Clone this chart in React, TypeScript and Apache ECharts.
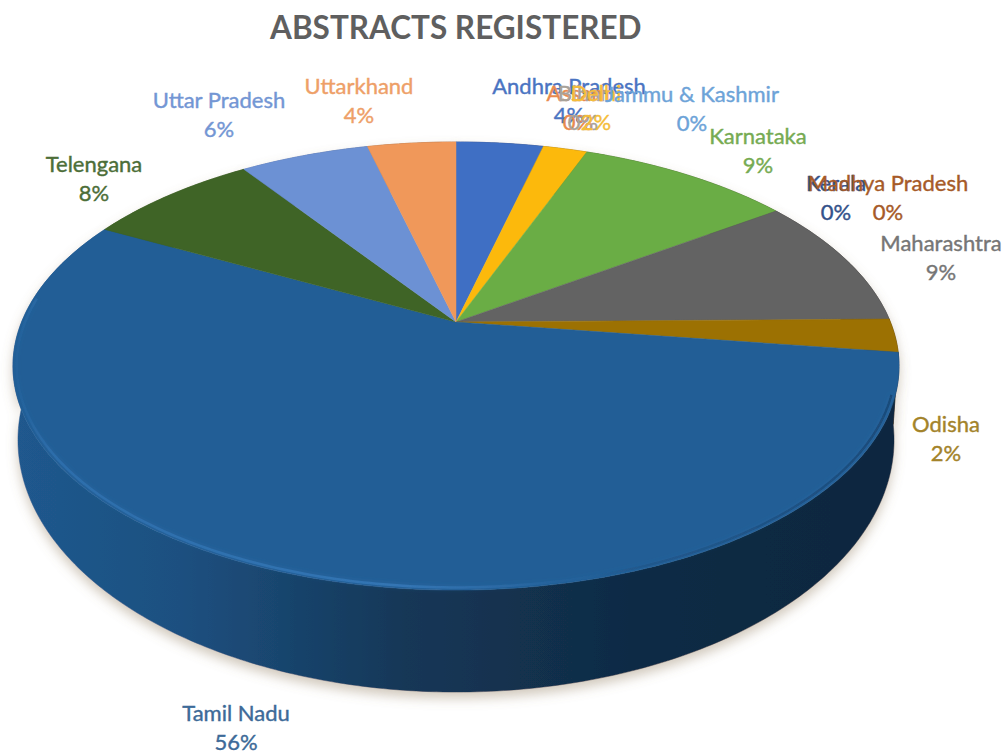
import React, { useEffect, useRef } from "react";
import * as echarts from "echarts";

const titleText = "ABSTRACTS REGISTERED";
const states = ["Andhra Pradesh", "Assam", "Bihar", "Delhi", "Jammu & Kashmir", "Karnataka", "Kerala", "Madhya Pradesh", "Maharashtra", "Odisha", "Tamil Nadu", "Telengana", "Uttar Pradesh", "Uttarkhand"];
const shares = [3.85, 0, 0, 1.95, 0, 9.49, 0, 0, 9.49, 2.4, 55.6, 7.62, 5.7, 3.9];

const sliceColors = ["#3f6fc4", "#ed7d31", "#a5a5a5", "#fcb90c", "#5b9bd5", "#6aad45", "#264478", "#9e480e", "#636363", "#9c7102", "#225e96", "#3f6426", "#6c91d4", "#f0985a"];
const labelColors = ["#4a74c2", "#e98a4e", "#a8a29a", "#f5bd3a", "#6da3d8", "#76ab52", "#34528a", "#a65a28", "#767676", "#a3832a", "#3d6a98", "#4c6e38", "#7396d4", "#ee9f68"];
const labelAnchors = [[569, 100], [578, 107], [583, 107], [596, 107], [692, 108], [758, 150], [836, 197], [888, 197], [941, 257], [946, 438], [236, 727], [94, 178], [219, 114], [359, 100]];

const APEX_X = 456, APEX_Y = 322, SCALE_X = 434.4, SCALE_Y = 215.4, PERSPECTIVE = 0.1965;
const TOP_CX = 456, TOP_CY = 366, BOTTOM_CX = 456, BOTTOM_CY = 440;
const BOTTOM_SX = 438 / 443, BOTTOM_SY = 252 / 224;

function project(pct: number, r = 1): [number, number] {
  const t = (pct / 100) * Math.PI * 2;
  const u = Math.sin(t) * r, v = -Math.cos(t) * r;
  const w = 1 - PERSPECTIVE * v;
  return [APEX_X + (SCALE_X * u) / w, APEX_Y + (SCALE_Y * v) / w];
}
function arc(a: number, b: number, r = 1) {
  const pts: [number, number][] = [];
  const n = Math.max(2, Math.ceil((b - a) / 0.2));
  for (let i = 0; i <= n; i++) pts.push(project(a + ((b - a) * i) / n, r));
  return pts;
}
function lower(p: [number, number]): [number, number] {
  return [BOTTOM_CX + (p[0] - TOP_CX) * BOTTOM_SX, BOTTOM_CY + (p[1] - TOP_CY) * BOTTOM_SY];
}
function shade(hex: string, f: number) {
  const n = parseInt(hex.slice(1), 16);
  const c = (s: number) => Math.round(((n >> s) & 255) * f);
  return `rgb(${c(16)},${c(8)},${c(0)})`;
}

let acc = 0;
const sliceData = shares.map((v, i) => {
  const row = [acc, acc + v, i];
  acc += v;
  return row;
});

export default function App() {
  const ref = useRef<HTMLDivElement>(null);
  useEffect(() => {
    const chart = echarts.init(ref.current!, null, { renderer: "svg" });
    const G = echarts.graphic as any;
    const wallFill = (hex: string) =>
      new G.LinearGradient(0, 0, 900, 0, [
        { offset: 0, color: shade(hex, 0.95) },
        { offset: 0.2, color: shade(hex, 0.85) },
        { offset: 0.45, color: shade(hex, 0.58) },
        { offset: 0.7, color: shade(hex, 0.46) },
        { offset: 1, color: shade(hex, 0.42) },
      ], true);

    const wall = (_: any, api: any) => {
      const a = api.value(0), b = api.value(1), i = api.value(2);
      if (b <= a) return null;
      const t = arc(a, b);
      const pts = [...t, ...t.map(lower).reverse()];
      return {
        type: "polygon",
        shape: { points: pts },
        style: { fill: wallFill(sliceColors[i]), stroke: wallFill(sliceColors[i]), lineWidth: 0.5, shadowBlur: 12, shadowColor: "rgba(140,120,90,0.4)", shadowOffsetY: 6 },
      };
    };
    const top = (_: any, api: any) => {
      const a = api.value(0), b = api.value(1), i = api.value(2);
      if (b <= a) return null;
      const pts = [[APEX_X, APEX_Y], ...arc(a, b)];
      return {
        type: "polygon",
        shape: { points: pts },
        style: { fill: sliceColors[i], stroke: sliceColors[i], lineWidth: 0.5 },
      };
    };
    const bevel = (_: any, api: any) => {
      const a = api.value(0), b = api.value(1);
      if (b - a < 30) return null;
      const front = arc(a + 3, b - 6, 0.992);
      return {
        type: "polyline",
        shape: { points: front },
        style: {
          fill: null,
          lineWidth: 2.5,
          shadowBlur: 5,
          shadowColor: "rgba(60,130,195,0.45)",
          stroke: new G.LinearGradient(0, 0, 900, 0, [
            { offset: 0.01, color: "rgba(52,120,185,0)" },
            { offset: 0.06, color: "rgba(52,120,185,0.55)" },
            { offset: 0.45, color: "rgba(58,125,190,0.7)" },
            { offset: 0.62, color: "rgba(58,125,190,0.1)" },
            { offset: 0.7, color: "rgba(25,70,115,0.3)" },
            { offset: 1, color: "rgba(20,55,95,0.6)" },
          ], true),
        },
      };
    };
    const label = (_: any, api: any) => {
      const i = api.value(2);
      const pct = Math.round(api.value(1) - api.value(0));
      return {
        type: "text",
        style: {
          text: `${states[i]}\n${pct}%`,
          x: labelAnchors[i][0],
          y: labelAnchors[i][1],
          align: "center",
          verticalAlign: "middle",
          fontFamily: "Lato",
          fontSize: 22,
          lineHeight: 29.5,
          fill: labelColors[i],
          stroke: labelColors[i],
          lineWidth: 0.4,
        },
      };
    };
    const custom = (renderItem: any, z: number) => ({
      type: "custom",
      coordinateSystem: "none",
      renderItem,
      data: sliceData,
      silent: true,
      clip: false,
      z,
    });
    chart.setOption({
      animation: false,
      backgroundColor: "#ffffff",
      title: {
        text: titleText,
        left: 265,
        top: 6,
        textStyle: { fontFamily: "Lato", fontWeight: 700, fontSize: 31.5, color: "#5f5f5f" },
      },
      series: [custom(wall, 1), custom(top, 2), custom(bevel, 3), custom(label, 4)],
    });
    return () => chart.dispose();
  }, []);
  return <div ref={ref} style={{ position: "fixed", left: 0, top: 0, width: 1008, height: 755 }} />;
}
